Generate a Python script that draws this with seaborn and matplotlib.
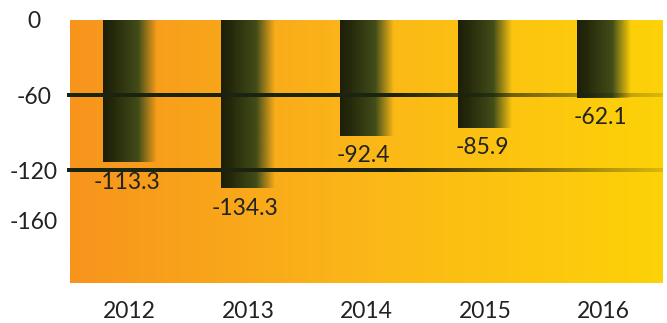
import numpy as np
import pandas as pd
import matplotlib
matplotlib.use("Agg")
import matplotlib.pyplot as plt
import seaborn as sns
from matplotlib.colors import LinearSegmentedColormap, to_rgb

# Data
years = ["2012", "2013", "2014", "2015", "2016"]
values = [-113.3, -134.3, -92.4, -85.9, -62.1]
y_ticks = [0, -60, -120, -160]
grid_levels = [-60, -120]

sns.set_theme(style="white")
plt.rcParams["font.family"] = ["Lato", "DejaVu Sans"]
text_color = "#222222"
font_size = 16.5

fig = plt.figure(figsize=(6.67, 3.23), dpi=100)
ax = fig.add_axes([70 / 667, 40 / 323, 593 / 667, 263 / 323])

df = pd.DataFrame({"year": years, "value": values})
sns.barplot(data=df, x="year", y="value", ax=ax, width=0.45,
            color="#222222", saturation=1, zorder=2)

xlim = ax.get_xlim()
ylim = (-210, 0)

# Horizontal orange-to-yellow background
bg_cmap = LinearSegmentedColormap.from_list("bg", ["#F7941D", "#FBB718", "#FDD208"])
ramp = np.linspace(0, 1, 512).reshape(1, -1)
ax.imshow(ramp, cmap=bg_cmap, extent=[0, 1, 0, 1], transform=ax.transAxes,
          aspect="auto", zorder=0, interpolation="bilinear")

# Bars: dark-to-olive fill that fades out on the right edge
n = 256
t = np.linspace(0, 1, n)
c_left = np.array(to_rgb("#1C1E08"))
c_mid = np.array(to_rgb("#262A0B"))
c_right = np.array(to_rgb("#45501A"))
rgba = np.zeros((1, n, 4))
for i, s in enumerate(t):
    if s < 0.2:
        c = c_left + (c_mid - c_left) * (s / 0.2)
    else:
        c = c_mid + (c_right - c_mid) * min(1, (s - 0.2) / 0.5)
    a = 1.0 if s < 0.66 else max(0.0, 1 - (s - 0.66) / 0.34)
    rgba[0, i, :3] = c
    rgba[0, i, 3] = a

for p in list(ax.patches):
    x0, y0 = p.get_x(), p.get_y()
    w, h = p.get_width(), p.get_height()
    ax.imshow(rgba, extent=[x0, x0 + w, y0 + h, y0], aspect="auto",
              zorder=2, interpolation="bilinear")
    p.set_facecolor("none")
    p.set_edgecolor("none")

# Reference lines that fade toward the right
line_rgb = np.array(to_rgb("#1A2410"))
m = 400
xs = np.linspace(0, 1, m)
line_rgba = np.zeros((1, m, 4))
line_rgba[0, :, :3] = line_rgb
line_rgba[0, :, 3] = np.where(xs < 0.55, 1.0, 1.0 - 0.85 * (xs - 0.55) / 0.45)
half = 1.2  # half thickness in data units (~3 px total)
trans = ax.get_yaxis_transform()
for lvl in grid_levels:
    im = ax.imshow(line_rgba, extent=[-0.005, 1.0, lvl - half, lvl + half],
                   transform=trans, aspect="auto", zorder=3,
                   interpolation="bilinear")
    im.set_clip_on(False)

# Value labels under each bar
for i, v in enumerate(values):
    ax.annotate(f"{v:.1f}", xy=(i, v), xytext=(-2, -7), textcoords="offset points",
                ha="center", va="top", fontsize=font_size, color=text_color, zorder=4)

ax.set_xlim(xlim)
ax.set_ylim(ylim)
ax.set_yticks(y_ticks, labels=[str(v) for v in y_ticks])
ax.set_xlabel("")
ax.set_ylabel("")
ax.tick_params(axis="both", length=0, labelsize=font_size, labelcolor=text_color)
ax.tick_params(axis="y", pad=26)
ax.tick_params(axis="x", pad=13)
for lab in ax.get_yticklabels():
    lab.set_horizontalalignment("center")
for s in ax.spines.values():
    s.set_visible(False)
ax.grid(False)

fig.savefig("out.png", dpi=100, facecolor="white")
